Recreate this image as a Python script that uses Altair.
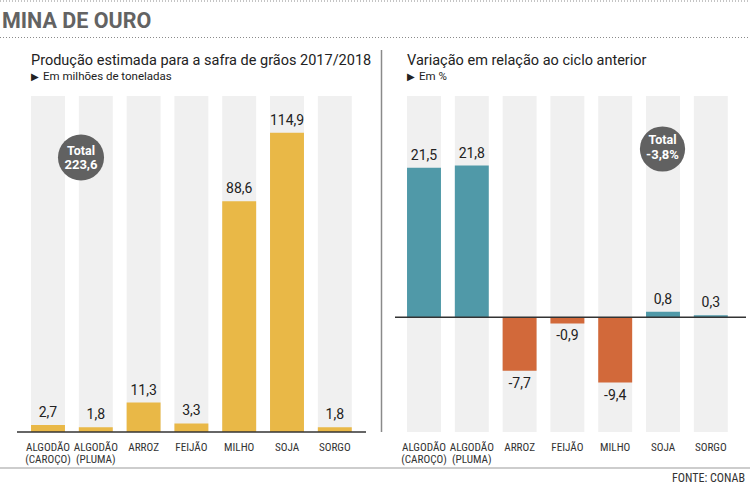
import altair as alt
import pandas as pd

# ---- data -------------------------------------------------------------
categorias = ["ALGODÃO (CAROÇO)", "ALGODÃO (PLUMA)", "ARROZ", "FEIJÃO",
              "MILHO", "SOJA", "SORGO"]
rotulos = ["ALGODÃO\n(CAROÇO)", "ALGODÃO\n(PLUMA)", "ARROZ", "FEIJÃO",
           "MILHO", "SOJA", "SORGO"]
producao = [2.7, 1.8, 11.3, 3.3, 88.6, 114.9, 1.8]      # milhões de toneladas
variacao = [21.5, 21.8, -7.7, -0.9, -9.4, 0.8, 0.3]     # % sobre o ciclo anterior
total_producao = "223,6"
total_variacao = "-3,8%"

titulo = "MINA DE OURO"
sub_esq = "Produção estimada para a safra de grãos 2017/2018"
uni_esq = "Em milhões de toneladas"
sub_dir = "Variação em relação ao ciclo anterior"
uni_dir = "Em %"
fonte = "FONTE: CONAB"


def br(v):
    return f"{v:.1f}".replace(".", ",")


df = pd.DataFrame({
    "cat": categorias,
    "rotulo": rotulos,
    "prod": producao,
    "var": variacao,
    "prod_txt": [br(v) for v in producao],
    "var_txt": [br(v) for v in variacao],
    "sinal": ["pos" if v >= 0 else "neg" for v in variacao],
})

# ---- style ------------------------------------------------------------
GOLD = "#E9B847"
TEAL = "#5099A8"
ORANGE = "#D2693A"
DOTS = "#f0f0f0"
INK = "#222222"
FONT = "Roboto"
NARROW = "Liberation Sans Narrow, Roboto Condensed, DejaVu Sans Condensed, Roboto"

W, H = 750, 485
TOP, BASE = 96, 432

xL = alt.Scale(domain=categorias, range=[24.1, 358.7], paddingInner=0.29, paddingOuter=0.145)
yL = alt.Scale(domain=[0, 129], range=[BASE, TOP], nice=False, zero=False)
xR = alt.Scale(domain=categorias, range=[400.1, 734.7], paddingInner=0.29, paddingOuter=0.145)
yR = alt.Scale(domain=[-16.5, 31.8], range=[BASE, TOP], nice=False, zero=False)

base = alt.Chart(df)
um = alt.Chart(pd.DataFrame({"k": [0]}))


def texto(s, x, y, size, color=INK, weight="normal", align="left", font=FONT):
    return um.mark_text(text=s, align=align, baseline="alphabetic", fontSize=size,
                        fontWeight=weight, color=color, font=font).encode(
        x=alt.value(x), y=alt.value(y))


def linha(x, x2, y, y2, color, width, dash=None):
    kw = dict(color=color, strokeWidth=width)
    if dash:
        kw["strokeDash"] = dash
    return um.mark_rule(**kw).encode(x=alt.value(x), x2=alt.value(x2),
                                     y=alt.value(y), y2=alt.value(y2))


def nomes(x_enc):
    # category names under each column, two lines where needed
    return base.mark_text(baseline="alphabetic", lineBreak="\n", lineHeight=12,
                          fontSize=11.2, font=NARROW, color="#333333").encode(
        x=x_enc, y=alt.value(451), text="rotulo:N")


# ---- left panel: production ------------------------------------------
xl = alt.X("cat:N", scale=xL, axis=None)
esquerda = alt.layer(
    base.mark_bar(color=DOTS).encode(
        x=xl, y=alt.YDatum(129, scale=yL, axis=None), y2=alt.Y2Datum(0)),
    base.mark_bar(color=GOLD).encode(x=xl, y=alt.Y("prod:Q", scale=yL, axis=None)),
    base.mark_text(dy=-5, baseline="bottom", fontSize=14, font=FONT, color=INK).encode(
        x=xl, y=alt.Y("prod:Q", scale=yL, axis=None), text="prod_txt:N"),
    nomes(xl),
    um.mark_rule(color="#333333", strokeWidth=1.5).encode(
        x=alt.value(17), x2=alt.value(366), y=alt.YDatum(0, scale=yL, axis=None)),
)

# ---- right panel: change vs previous cycle ---------------------------
xr = alt.X("cat:N", scale=xR, axis=None)
yr = alt.Y("var:Q", scale=yR, axis=None)
direita = alt.layer(
    base.mark_bar(color=DOTS).encode(
        x=xr, y=alt.YDatum(31.8, scale=yR, axis=None), y2=alt.Y2Datum(-16.5)),
    base.mark_bar().encode(
        x=xr, y=yr, y2=alt.Y2Datum(0),
        color=alt.Color("sinal:N", scale=alt.Scale(domain=["pos", "neg"],
                                                  range=[TEAL, ORANGE]), legend=None)),
    base.transform_filter("datum.var >= 0").mark_text(
        dy=-5, baseline="bottom", fontSize=14, font=FONT, color=INK).encode(
        x=xr, y=yr, text="var_txt:N"),
    base.transform_filter("datum.var < 0").mark_text(
        dy=6, baseline="top", fontSize=14, font=FONT, color=INK).encode(
        x=xr, y=yr, text="var_txt:N"),
    nomes(xr),
    um.mark_rule(color="#333333", strokeWidth=1.5).encode(
        x=alt.value(395), x2=alt.value(746), y=alt.YDatum(0, scale=yR, axis=None)),
)

# ---- page furniture --------------------------------------------------
moldura = alt.layer(
    linha(0, W, 1, 1, "#8a8a8a", 1, [1, 2]),
    linha(0, W, 37.5, 37.5, "#8a8a8a", 1, [1, 2]),
    texto(titulo, 2, 28, 21.5, color="#636363", weight="bold"),
    texto(sub_esq, 31, 65, 14.5),
    texto("▶", 31, 79.5, 10),
    texto(uni_esq, 43, 80, 11.5),
    texto(sub_dir, 407, 65, 14.5),
    texto("▶", 407, 79.5, 10),
    texto(uni_dir, 419, 80, 11.5),
    linha(381.5, 381.5, 50, 432, "#8a8a8a", 1.5),
    linha(0, W, 468, 468, "#bdbdbd", 1.5),
    texto(fonte, 745, 481.5, 12, color="#333333", align="right", font=NARROW),
    um.mark_circle(size=2124, color="#616161", opacity=1).encode(
        x=alt.value(81), y=alt.value(157.5)),
    texto("Total", 81, 155, 12.5, color="white", weight="bold", align="center"),
    texto(total_producao, 81, 168.5, 13, color="white", weight="bold", align="center"),
    um.mark_circle(size=2043, color="#616161", opacity=1).encode(
        x=alt.value(662.5), y=alt.value(149)),
    texto("Total", 662.5, 143.5, 12.5, color="white", weight="bold", align="center"),
    texto(total_variacao, 662.5, 159, 13, color="white", weight="bold", align="center"),
)

chart = alt.layer(esquerda, direita, moldura).resolve_scale(
    x="independent", y="independent"
).properties(
    width=W, height=H, padding=0,
    autosize=alt.AutoSizeParams(type="none"),
).configure_view(stroke=None)

chart.save("out.html", embed_options={"renderer": "svg", "actions": False})
